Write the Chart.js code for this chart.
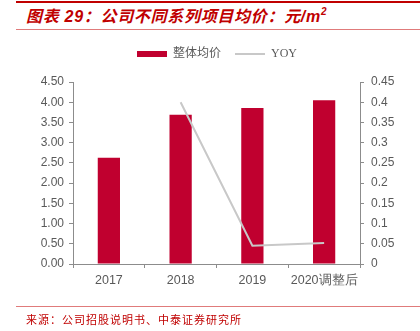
<!DOCTYPE html>
<html>
<head>
<meta charset="utf-8">
<script src="https://cdn.jsdelivr.net/npm/chart.js@4.4.0/dist/chart.umd.min.js"></script>
<style>
  html, body { margin: 0; padding: 0; background: #fff; }
  #wrap { position: relative; width: 420px; height: 331px; overflow: hidden; }
  #chart { position: absolute; left: 0; top: 0; }
  .rule { position: absolute; left: 16px; right: 0; }
  #title {
    position: absolute; left: 26px; top: 3px;
    font: italic bold 16px "Liberation Sans", "Noto Sans CJK SC", sans-serif;
    color: #c00000; white-space: nowrap; letter-spacing: 0.7px;
  }
  #title sup { font-size: 10px; vertical-align: 7px; }
  #source {
    position: absolute; left: 26px; top: 311px;
    font: 11px "Liberation Serif", "Noto Sans CJK SC", serif;
    color: #c00000; white-space: nowrap; letter-spacing: 1px;
  }
</style>
</head>
<body>
<div id="wrap">
  <div class="rule" style="top:1px;height:2px;background:#c00000"></div>
  <div id="title">图表 29：公司不同系列项目均价：元/m<sup>2</sup></div>
  <div class="rule" style="top:29px;height:1px;background:#e07b7b"></div>
  <canvas id="chart" width="420" height="331"></canvas>
  <div class="rule" style="top:306px;height:1px;background:#e07b7b"></div>
  <div id="source">来源：公司招股说明书、中泰证券研究所</div>
</div>
<script>
const years = ['2017', '2018', '2019', '2020调整后'];
const avgPrice = [2.63, 3.69, 3.86, 4.05];
const yoy = [null, 0.40, 0.045, 0.052];
const leftTicks = [0, 0.5, 1, 1.5, 2, 2.5, 3, 3.5, 4, 4.5];
const rightTicks = [0, 0.05, 0.1, 0.15, 0.2, 0.25, 0.3, 0.35, 0.4, 0.45];

const axisGray = '#8c8c8c';
const textGray = '#595959';
const tickFont = { family: '"Liberation Sans", Arial, sans-serif', size: 12 };

// leave some room between the legend and the plot
const legendGap = {
  id: 'legendGap',
  beforeInit(chart) {
    const fit = chart.legend.fit;
    chart.legend.fit = function () {
      fit.call(this);
      this.height += 12;
    };
  }
};

new Chart(document.getElementById('chart'), {
  data: {
    labels: years,
    datasets: [
      {
        type: 'line',
        label: 'YOY',
        data: yoy,
        yAxisID: 'y1',
        borderColor: '#c8c8c8',
        backgroundColor: '#c8c8c8',
        borderWidth: 2,
        pointRadius: 0,
        tension: 0,
        order: 0
      },
      {
        type: 'bar',
        label: '整体均价',
        data: avgPrice,
        yAxisID: 'y',
        backgroundColor: '#c0002f',
        borderWidth: 0,
        barPercentage: 0.31,
        categoryPercentage: 1,
        order: 1
      }
    ]
  },
  plugins: [legendGap],
  options: {
    responsive: false,
    animation: false,
    layout: { padding: { top: 34, left: 14, right: 0, bottom: 37 } },
    plugins: {
      tooltip: { enabled: false },
      legend: {
        reverse: true,
        labels: {
          usePointStyle: true,
          pointStyleWidth: 30,
          boxHeight: 6,
          padding: 14,
          color: textGray,
          font: { family: '"Liberation Serif", "Noto Sans CJK SC", serif', size: 12 },
          generateLabels(chart) {
            const items = Chart.defaults.plugins.legend.labels.generateLabels(chart);
            items.forEach(it => {
              const ds = chart.data.datasets[it.datasetIndex];
              if (ds.type === 'line') {
                it.pointStyle = 'line';
                it.strokeStyle = '#c8c8c8';
                it.lineWidth = 2;
              } else {
                it.pointStyle = 'rect';
                it.fillStyle = '#c0002f';
                it.lineWidth = 0;
              }
            });
            return items;
          }
        }
      }
    },
    scales: {
      x: {
        grid: { display: true, drawOnChartArea: false, offset: true, tickLength: 4, color: axisGray },
        border: { color: axisGray },
        ticks: { color: textGray, font: { ...tickFont, size: 12.5 }, padding: 5, maxRotation: 0, autoSkip: false },
        afterFit(scale) { scale.height = 30; }
      },
      y: {
        position: 'left',
        min: 0,
        max: 4.5,
        afterBuildTicks(scale) { scale.ticks = leftTicks.map(v => ({ value: v })); },
        grid: { display: true, drawOnChartArea: false, tickLength: 4, color: axisGray },
        border: { color: axisGray },
        ticks: { color: textGray, font: tickFont, padding: 5, callback: v => v.toFixed(2) },
        afterFit(scale) { scale.width = 59; }
      },
      y1: {
        position: 'right',
        min: 0,
        max: 0.45,
        afterBuildTicks(scale) { scale.ticks = rightTicks.map(v => ({ value: v })); },
        grid: { display: true, drawOnChartArea: false, tickLength: 4, color: axisGray },
        border: { color: axisGray },
        ticks: { color: textGray, font: tickFont, padding: 7, callback: v => String(+v.toFixed(2)) },
        afterFit(scale) { scale.width = 60; }
      }
    }
  }
});
</script>
</body>
</html>
